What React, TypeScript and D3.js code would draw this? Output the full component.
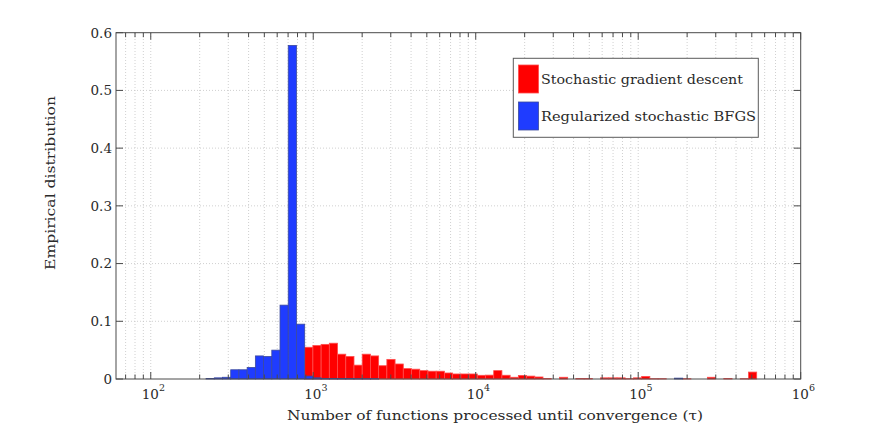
import { useEffect, useRef } from "react";
import * as d3 from "d3";

// histogram bins are uniform in log10(tau)
const binLogStart = 2.3403;
const binLogWidth = 0.05058;

const sgdValues = [
    0, 0, 0, 0, 0, 0, 0, 0, 0, 0,
    0, 0, 0.055, 0.058, 0.060, 0.062, 0.043, 0.039, 0.024, 0.043,
    0.040, 0.023, 0.034, 0.026, 0.018, 0.017, 0.0145, 0.0135, 0.0135, 0.0104,
    0.0087, 0.0087, 0.0087, 0.0064, 0.0067, 0.0145, 0.0065, 0.003, 0.0062, 0.005,
    0.0035, 0.0007, 0, 0.003, 0, 0.001, 0.001, 0, 0.002, 0.002,
    0.002, 0.0005, 0.002, 0.0045, 0.0005, 0.0005, 0, 0, 0.0005, 0,
    0, 0.003, 0, 0.001, 0, 0.0005, 0.012,
];

const bfgsValues = [
    0.001, 0.002, 0.003, 0.016, 0.016, 0.020, 0.040, 0.039, 0.050, 0.128,
    0.578, 0.095, 0.005, 0.002, 0.001, 0.001, 0.001, 0.001, 0.0005, 0.0005,
    0.0005, 0, 0, 0, 0, 0, 0, 0, 0, 0,
    0, 0, 0, 0, 0, 0, 0, 0, 0, 0,
    0, 0, 0, 0, 0, 0, 0, 0, 0, 0,
    0, 0, 0, 0, 0, 0, 0, 0.0015, 0, 0,
    0, 0, 0, 0, 0, 0, 0,
];

const xDomain = [61.1, 1e6];
const yDomain = [0, 0.6];
const yTicks = [0, 0.1, 0.2, 0.3, 0.4, 0.5, 0.6];
const xMajorExponents = [2, 3, 4, 5, 6];
const seriesNames = ["Stochastic gradient descent", "Regularized stochastic BFGS"];
const xLabel = "Number of functions processed until convergence (\u03c4)";
const yLabel = "Empirical distribution";

const WIDTH = 885;
const HEIGHT = 427;
const FONT = "DejaVu Serif, Liberation Serif, serif";
const TEXT = "#2a2a2a";

const App = () => {
    const svgRef = useRef<SVGSVGElement>(null);
    const margin = { top: 32.7, right: 84.3, bottom: 48, left: 116 };

    useEffect(() => {
        if (!svgRef.current) return;
        const svg = d3.select(svgRef.current);
        svg.selectAll("*").remove();

        const x = d3.scaleLog()
            .domain(xDomain)
            .range([margin.left, WIDTH - margin.right]);
        const y = d3.scaleLinear()
            .domain(yDomain)
            .range([HEIGHT - margin.bottom, margin.top]);

        const x0 = margin.left, x1 = WIDTH - margin.right;
        const y0 = HEIGHT - margin.bottom, y1 = margin.top;

        svg.append("rect")
            .attr("width", WIDTH).attr("height", HEIGHT).attr("fill", "white");

        // grid
        const minorTicks: number[] = [];
        for (let e = 1; e <= 5; e++) {
            for (let m = 2; m <= 9; m++) {
                const v = m * Math.pow(10, e);
                if (v > xDomain[0] && v < xDomain[1]) minorTicks.push(v);
            }
        }
        const majorTicks = xMajorExponents.map(e => Math.pow(10, e));
        const grid = svg.append("g")
            .attr("stroke", "#c4c4c4")
            .attr("stroke-width", 0.8)
            .attr("stroke-dasharray", "1,2");
        grid.selectAll("line.vx")
            .data([...minorTicks, ...majorTicks.filter(v => v < xDomain[1])])
            .join("line")
            .attr("x1", d => x(d)).attr("x2", d => x(d))
            .attr("y1", y0).attr("y2", y1);
        grid.selectAll("line.hy")
            .data(yTicks.filter(v => v > 0 && v < 0.6))
            .join("line")
            .attr("x1", x0).attr("x2", x1)
            .attr("y1", d => y(d)).attr("y2", d => y(d));

        // bars
        const binEdges = (k: number) => [
            Math.pow(10, binLogStart + k * binLogWidth),
            Math.pow(10, binLogStart + (k + 1) * binLogWidth),
        ];
        const drawSeries = (vals: number[], fill: string, stroke: string) => {
            svg.append("g")
                .selectAll("rect")
                .data(vals.map((v, k) => ({ v, k })).filter(d => d.v > 0))
                .join("rect")
                .attr("x", d => x(binEdges(d.k)[0]))
                .attr("width", d => x(binEdges(d.k)[1]) - x(binEdges(d.k)[0]))
                .attr("y", d => y(d.v))
                .attr("height", d => y(0) - y(d.v))
                .attr("fill", fill)
                .attr("stroke", stroke)
                .attr("stroke-width", 0.8);
        };
        drawSeries(sgdValues, "#ff0000", "#ff4d4d");
        drawSeries(bfgsValues, "#1f3cff", "#3b4a9e");

        // axes box and ticks
        const axisColor = "#4a4a4a";
        svg.append("rect")
            .attr("x", x0).attr("y", y1)
            .attr("width", x1 - x0).attr("height", y0 - y1)
            .attr("fill", "none")
            .attr("stroke", axisColor)
            .attr("stroke-width", 1);
        const ticks = svg.append("g").attr("stroke", axisColor).attr("stroke-width", 1);
        const tickLines = (vals: number[], len: number) => {
            vals.forEach(v => {
                ticks.append("line").attr("x1", x(v)).attr("x2", x(v)).attr("y1", y0).attr("y2", y0 - len);
                ticks.append("line").attr("x1", x(v)).attr("x2", x(v)).attr("y1", y1).attr("y2", y1 + len);
            });
        };
        tickLines(majorTicks, 7);
        tickLines(minorTicks, 4.5);
        yTicks.forEach(v => {
            ticks.append("line").attr("x1", x0).attr("x2", x0 + 7).attr("y1", y(v)).attr("y2", y(v));
            ticks.append("line").attr("x1", x1).attr("x2", x1 - 7).attr("y1", y(v)).attr("y2", y(v));
        });

        // tick labels
        svg.append("g")
            .selectAll("text")
            .data(yTicks)
            .join("text")
            .attr("x", x0 - 4)
            .attr("y", d => y(d) + 4.8)
            .attr("text-anchor", "end")
            .attr("font-family", FONT)
            .attr("font-size", 13.5)
            .attr("fill", TEXT)
            .text(d => (d === 0 ? "0" : d.toFixed(1)));

        const xl = svg.append("g")
            .selectAll("text")
            .data(xMajorExponents)
            .join("text")
            .attr("x", d => x(Math.pow(10, d)) - 9)
            .attr("y", 399)
            .attr("font-family", FONT)
            .attr("font-size", 13.5)
            .attr("fill", TEXT);
        xl.append("tspan").text("10");
        xl.append("tspan")
            .attr("dy", -8)
            .attr("font-size", 9.5)
            .text(d => String(d));

        // axis titles
        svg.append("text")
            .attr("x", 287)
            .attr("y", 419.5)
            .attr("font-family", FONT)
            .attr("font-size", 13.5)
            .attr("fill", TEXT)
            .attr("textLength", 416)
            .attr("lengthAdjust", "spacingAndGlyphs")
            .text(xLabel);
        svg.append("text")
            .attr("transform", "translate(55,270) rotate(-90)")
            .attr("font-family", FONT)
            .attr("font-size", 13.5)
            .attr("fill", TEXT)
            .attr("textLength", 174)
            .attr("lengthAdjust", "spacingAndGlyphs")
            .text(yLabel);

        // legend
        const lg = svg.append("g");
        lg.append("rect")
            .attr("x", 513.3).attr("y", 58.3)
            .attr("width", 245).attr("height", 79)
            .attr("fill", "white")
            .attr("stroke", "#5a5a5a")
            .attr("stroke-width", 1);
        const legendColors = [["#ff0000", "#ff4d4d"], ["#1f3cff", "#3b4a9e"]];
        const legendWidths = [202, 215];
        seriesNames.forEach((name, i) => {
            const top = 65 + i * 37;
            lg.append("rect")
                .attr("x", 518.5).attr("y", top)
                .attr("width", 20).attr("height", 28)
                .attr("fill", legendColors[i][0])
                .attr("stroke", legendColors[i][1])
                .attr("stroke-width", 0.8);
            lg.append("text")
                .attr("x", 541)
                .attr("y", top + 18.5)
                .attr("font-family", FONT)
                .attr("font-size", 13.5)
                .attr("fill", TEXT)
                .attr("textLength", legendWidths[i])
                .attr("lengthAdjust", "spacingAndGlyphs")
                .text(name);
        });
    }, []);

    return (
        <svg
            ref={svgRef}
            width={WIDTH}
            height={HEIGHT}
            style={{ position: "absolute", left: 0, top: 0 }}
        />
    );
};

export default App;
